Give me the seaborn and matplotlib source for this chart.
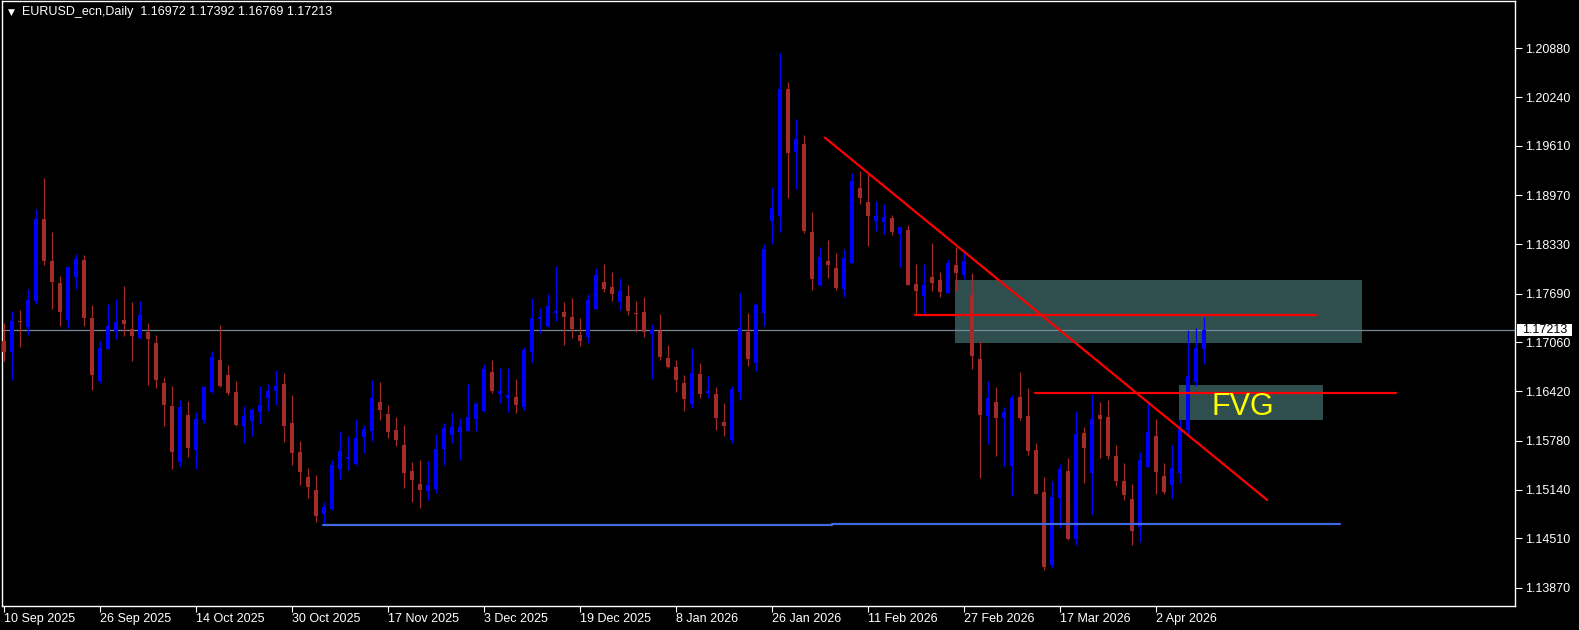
import matplotlib
matplotlib.use("Agg")
import matplotlib.pyplot as plt
from matplotlib.patches import Rectangle
from matplotlib.transforms import blended_transform_factory
import numpy as np
import pandas as pd
import seaborn as sns

# ---------------- data (EURUSD daily) ----------------
opens = [1.17074, 1.16935, 1.17329, 1.17256, 1.17593, 1.18659, 1.18113, 1.17827, 1.17351, 1.17905,
         1.18126, 1.17373, 1.16559, 1.16970, 1.17204, 1.17347, 1.17230, 1.17117, 1.17191, 1.17048,
         1.16528, 1.16230, 1.15506, 1.16113, 1.15662, 1.16052, 1.16411, 1.16827, 1.16632, 1.16411,
         1.15974, 1.16034, 1.16151, 1.16338, 1.16424, 1.16515, 1.16008, 1.15632, 1.15307, 1.15138,
         1.14831, 1.14891, 1.15411, 1.15541, 1.15480, 1.15827, 1.15905, 1.16281, 1.16125, 1.15917,
         1.15723, 1.15385, 1.15216, 1.15129, 1.15155, 1.15666, 1.15857, 1.15896, 1.15909, 1.16060,
         1.16169, 1.16671, 1.16390, 1.16338, 1.16346, 1.16216, 1.16935, 1.17360, 1.17273, 1.17442,
         1.17450, 1.17386, 1.17152, 1.17130, 1.17494, 1.17840, 1.17775, 1.17585, 1.17658, 1.17437,
         1.17451, 1.17169, 1.17208, 1.16853, 1.16736, 1.16533, 1.16260, 1.16649, 1.16403, 1.16390,
         1.16021, 1.15792, 1.16416, 1.17195, 1.16792, 1.17442, 1.18637, 1.18702, 1.20352, 1.19533,
         1.19637, 1.18490, 1.17801, 1.18113, 1.18022, 1.17749, 1.18091, 1.19061, 1.18879, 1.18633,
         1.18620, 1.18672, 1.18468, 1.18516, 1.17814, 1.17663, 1.17905, 1.17866, 1.17702, 1.18061,
         1.17931, 1.17671, 1.16840, 1.16104, 1.16281, 1.16078, 1.15454, 1.16346, 1.16099, 1.15658,
         1.15112, 1.14164, 1.15038, 1.15385, 1.14506, 1.15879, 1.15363, 1.16112, 1.16086, 1.15580,
         1.15255, 1.15021, 1.14662, 1.15441, 1.15844, 1.15320, 1.15207, 1.15363, 1.15922, 1.16545,
         1.16972]
highs = [1.17308, 1.17464, 1.17477, 1.17749, 1.18789, 1.19191, 1.18490, 1.17918, 1.18035, 1.18204,
         1.18191, 1.17541, 1.17074, 1.17554, 1.17619, 1.17788, 1.17580, 1.17593, 1.17308, 1.17152,
         1.16606, 1.16489, 1.16307, 1.16294, 1.16152, 1.16490, 1.16944, 1.17282, 1.16762, 1.16554,
         1.16229, 1.16203, 1.16489, 1.16515, 1.16697, 1.16658, 1.16372, 1.15775, 1.15424, 1.15333,
         1.14982, 1.15528, 1.15905, 1.15840, 1.16060, 1.15983, 1.16567, 1.16541, 1.16242, 1.16086,
         1.15983, 1.15502, 1.15528, 1.15515, 1.15870, 1.16008, 1.16138, 1.16073, 1.16519, 1.16281,
         1.16779, 1.16827, 1.16727, 1.16727, 1.16580, 1.16996, 1.17637, 1.17507, 1.17689, 1.18052,
         1.17585, 1.17637, 1.17377, 1.17689, 1.18022, 1.18078, 1.17970, 1.17892, 1.17801, 1.17593,
         1.17645, 1.17295, 1.17425, 1.17026, 1.16827, 1.16632, 1.16987, 1.16792, 1.16623, 1.16481,
         1.16273, 1.16493, 1.17702, 1.17442, 1.17572, 1.18338, 1.19079, 1.20819, 1.20443, 1.19962,
         1.19754, 1.18750, 1.18295, 1.18386, 1.18217, 1.18269, 1.19256, 1.19282, 1.19243, 1.18892,
         1.18853, 1.18711, 1.18560, 1.18581, 1.18074, 1.18074, 1.18347, 1.17970, 1.18139, 1.18295,
         1.18230, 1.17957, 1.17074, 1.16558, 1.16476, 1.16216, 1.16372, 1.16671, 1.16467, 1.15749,
         1.15307, 1.15255, 1.15480, 1.15558, 1.16164, 1.15957, 1.16385, 1.16281, 1.16307, 1.15727,
         1.15489, 1.15220, 1.15632, 1.16281, 1.16065, 1.15493, 1.15723, 1.16060, 1.17217, 1.17247,
         1.17392]
lows = [1.16818, 1.16567, 1.17000, 1.17152, 1.17559, 1.18065, 1.17494, 1.17273, 1.17247, 1.17754,
        1.17273, 1.16442, 1.16524, 1.16965, 1.17100, 1.17143, 1.16818, 1.17100, 1.16507, 1.16468,
        1.15974, 1.15415, 1.15454, 1.15571, 1.15415, 1.16013, 1.16402, 1.16476, 1.16372, 1.15970,
        1.15753, 1.15844, 1.16000, 1.16164, 1.16242, 1.15766, 1.15467, 1.15207, 1.15038, 1.14727,
        1.14705, 1.14883, 1.15281, 1.15398, 1.15467, 1.15623, 1.15779, 1.16052, 1.15818, 1.15714,
        1.15168, 1.14987, 1.14909, 1.15013, 1.15099, 1.15467, 1.15753, 1.15532, 1.15900, 1.15909,
        1.16156, 1.16403, 1.16273, 1.16156, 1.16143, 1.16182, 1.16805, 1.17182, 1.17260, 1.17338,
        1.17026, 1.17117, 1.17013, 1.17052, 1.17485, 1.17715, 1.17598, 1.17481, 1.17416, 1.17195,
        1.17130, 1.16580, 1.16831, 1.16727, 1.16416, 1.16169, 1.16208, 1.16338, 1.16338, 1.15922,
        1.15844, 1.15753, 1.16312, 1.16753, 1.16688, 1.17273, 1.18338, 1.18494, 1.18936, 1.19053,
        1.18481, 1.17741, 1.17793, 1.17896, 1.17741, 1.17650, 1.18085, 1.18858, 1.18308, 1.18507,
        1.18468, 1.18455, 1.18039, 1.17800, 1.17416, 1.17429, 1.17728, 1.17650, 1.17697, 1.17728,
        1.17879, 1.16714, 1.15298, 1.15740, 1.15584, 1.15454, 1.15065, 1.16052, 1.15597, 1.15085,
        1.14103, 1.14129, 1.14649, 1.14493, 1.14428, 1.15233, 1.14831, 1.15558, 1.15545, 1.15194,
        1.15013, 1.14428, 1.14467, 1.15436, 1.15090, 1.15090, 1.15038, 1.15233, 1.15870, 1.16493,
        1.16769]
closes = [1.16935, 1.17334, 1.17325, 1.17606, 1.18659, 1.18117, 1.17845, 1.17455, 1.18035, 1.18139,
          1.17377, 1.16636, 1.16983, 1.17269, 1.17321, 1.17299, 1.17143, 1.17412, 1.17104, 1.16572,
          1.16247, 1.15636, 1.16217, 1.15688, 1.16061, 1.16476, 1.16866, 1.16489, 1.16398, 1.15983,
          1.16099, 1.16177, 1.16242, 1.16424, 1.16489, 1.15974, 1.15623, 1.15376, 1.15177, 1.14805,
          1.14917, 1.15463, 1.15645, 1.15567, 1.15814, 1.15930, 1.16333, 1.16177, 1.15896, 1.15788,
          1.15363, 1.15272, 1.15142, 1.15203, 1.15671, 1.15944, 1.15957, 1.15957, 1.16086, 1.16255,
          1.16710, 1.16429, 1.16424, 1.16372, 1.16247, 1.16957, 1.17377, 1.17390, 1.17528, 1.17463,
          1.17390, 1.17230, 1.17078, 1.17606, 1.17931, 1.17754, 1.17689, 1.17723, 1.17468, 1.17429,
          1.17195, 1.17221, 1.16870, 1.16740, 1.16572, 1.16325, 1.16658, 1.16390, 1.16428, 1.16078,
          1.15974, 1.16455, 1.17247, 1.16844, 1.17546, 1.18273, 1.18806, 1.20352, 1.19520, 1.19702,
          1.18507, 1.17883, 1.18165, 1.18061, 1.17767, 1.18152, 1.19152, 1.18936, 1.18702, 1.18698,
          1.18685, 1.18494, 1.18555, 1.17806, 1.17728, 1.17801, 1.17832, 1.17715, 1.18087, 1.17961,
          1.18113, 1.16883, 1.16117, 1.16333, 1.16078, 1.16156, 1.16333, 1.16078, 1.15649, 1.15090,
          1.14142, 1.15047, 1.15411, 1.14506, 1.15866, 1.15688, 1.16060, 1.16060, 1.15584, 1.15259,
          1.15077, 1.14610, 1.15528, 1.15892, 1.15376, 1.15116, 1.15424, 1.15931, 1.16619, 1.16983,
          1.17213]

date_tick_bars = [0, 12, 24, 36, 48, 60, 72, 84, 96, 108, 120, 132, 144]
date_labels = ["10 Sep 2025", "26 Sep 2025", "14 Oct 2025", "30 Oct 2025", "17 Nov 2025",
               "3 Dec 2025", "19 Dec 2025", "8 Jan 2026", "26 Jan 2026", "11 Feb 2026",
               "27 Feb 2026", "17 Mar 2026", "2 Apr 2026"]
price_labels = ["1.20880", "1.20240", "1.19610", "1.18970", "1.18330", "1.17690",
                "1.17060", "1.16420", "1.15780", "1.15140", "1.14510", "1.13870"]

title_text = "EURUSD_ecn,Daily  1.16972 1.17392 1.16769 1.17213"
last_price = 1.17213

trend_x = [102.6, 157.9]
trend_y = [1.19717, 1.15008]
res_line_x = [113.9, 164.0]
res_line_y = [1.17415, 1.17415]
fvg_line_x = [128.9, 174.0]
fvg_line_y = [1.16402, 1.16402]
support1_x = [39.9, 103.5]
support1_y = [1.14687, 1.14687]
support2_x = [103.5, 167.0]
support2_y = [1.14700, 1.14700]
zone_x = [118.9, 169.8]
zone_y = [1.17052, 1.17866]
fvg_x = [146.9, 164.9]
fvg_y = [1.16051, 1.16502]
fvg_label = "FVG"
fvg_label_pos = (154.9, 1.16112)

# ---------------- styling ----------------
sns.set_style("dark", {"axes.facecolor": "black", "figure.facecolor": "black"})
plt.rcParams["font.family"] = ["Liberation Sans", "DejaVu Sans"]

BULL = "#0000FF"
BEAR = "#A52A2A"
ZONE = "#2F4F4F"

W, H = 1579, 630
fig = plt.figure(figsize=(W / 100, H / 100), dpi=100, facecolor="black")
ax = fig.add_axes([2 / W, 24 / H, 1513 / W, 605 / H])
ax.set_facecolor("black")
ax.grid(False)

df = pd.DataFrame({"bar": np.arange(len(opens)), "open": opens, "high": highs,
                   "low": lows, "close": closes})
df["bull"] = df["close"] >= df["open"]
df["color"] = np.where(df["bull"], BULL, BEAR)
df["body_low"] = df[["open", "close"]].min(axis=1)
df["body_h"] = (df["close"] - df["open"]).abs().clip(lower=0.00012)

# zones (background)
ax.add_patch(Rectangle((zone_x[0], zone_y[0]), zone_x[1] - zone_x[0], zone_y[1] - zone_y[0],
                       facecolor=ZONE, edgecolor="none", zorder=1))
ax.add_patch(Rectangle((fvg_x[0], fvg_y[0]), fvg_x[1] - fvg_x[0], fvg_y[1] - fvg_y[0],
                       facecolor=ZONE, edgecolor="none", zorder=1))

# current price line
ax.axhline(last_price, color="#778899", linewidth=0.9, zorder=1.5)

# candles
ax.vlines(df["bar"], df["low"], df["high"], colors=df["color"], linewidth=0.9, zorder=2)
ax.bar(df["bar"], df["body_h"], bottom=df["body_low"], width=0.62, color=df["color"],
       linewidth=0, zorder=3)

# drawn objects
for xs, ys, col in [(trend_x, trend_y, "#FF0000"), (res_line_x, res_line_y, "#FF0000"),
                    (fvg_line_x, fvg_line_y, "#FF0000"), (support1_x, support1_y, "#4169E1"),
                    (support2_x, support2_y, "#4169E1")]:
    sns.lineplot(x=xs, y=ys, color=col, linewidth=1.6, ax=ax, zorder=4)

ax.text(fvg_label_pos[0], fvg_label_pos[1], fvg_label, color="#FFFF00", fontsize=22,
        ha="center", va="baseline", zorder=5)

# axes limits / spines
ax.set_xlim(-0.25, 188.875)
ax.set_ylim(1.13631, 1.21491)
for s in ax.spines.values():
    s.set_visible(True)
    s.set_color("white")
    s.set_linewidth(1.0)
ax.set_xlabel("")
ax.set_ylabel("")

# x ticks
ax.set_xticks(date_tick_bars)
ax.set_xticklabels(date_labels)
for lab in ax.get_xticklabels():
    lab.set_horizontalalignment("left")
ax.tick_params(axis="x", bottom=True, colors="white", labelcolor="white", length=4,
               width=0.8, direction="out", pad=1, labelsize=9)

# y ticks on the right
ax.yaxis.tick_right()
ax.set_yticks([float(p) for p in price_labels])
ax.set_yticklabels(price_labels)
ax.tick_params(axis="y", right=True, left=False, labelright=True, labelleft=False,
               colors="white", labelcolor="white", length=5, width=0.8,
               direction="out", pad=2, labelsize=9)

# price label box
trans = blended_transform_factory(ax.transAxes, ax.transData)
ax.add_patch(Rectangle((1.0013, last_price - 0.00078), 0.0364, 0.00156, transform=trans,
                       facecolor="white", edgecolor="none", clip_on=False, zorder=10))
ax.text(1.0195, last_price, f"{last_price:.5f}", transform=trans, color="black",
        fontsize=9, ha="center", va="center", zorder=11, clip_on=False)

# title
fig.text(11 / W, 1 - 12 / H, "\u25BC", color="white", fontsize=6.5, ha="center",
         va="center", family="DejaVu Sans")
fig.text(21.5 / W, 1 - 12.5 / H, title_text, color="white", fontsize=9, ha="left",
         va="center")

fig.savefig("out.png", dpi=100, facecolor="black")
